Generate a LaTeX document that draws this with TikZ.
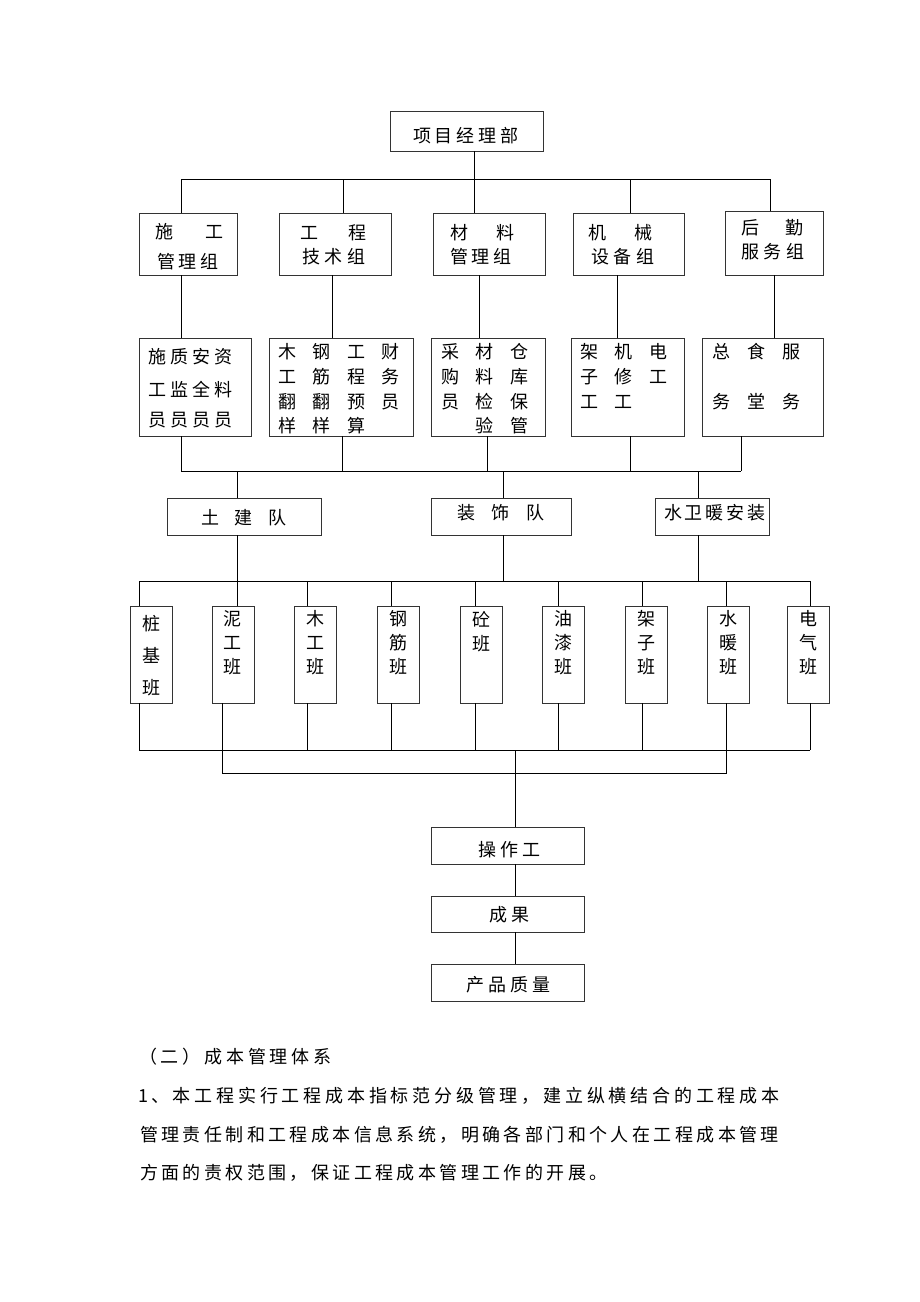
\documentclass[tikz,border=0pt]{standalone}
\usepackage{fontspec}
\newfontfamily\cjk{Noto Sans CJK SC}
\newcommand\spr[2]{\def\sprw{#1}\sprloop#2\relax}
\def\sprloop#1{\ifx#1\relax\else\makebox[\sprw][l]{#1}\expandafter\sprloop\fi}
\begin{document}
\begin{tikzpicture}[x=1pt,y=-1pt,
  bx/.style={draw=black!80, line width=0.9pt, inner sep=0pt, rectangle},
  ln/.style={line width=0.9pt, black},
  txt/.style={inner sep=0pt, anchor=west, font=\cjk\fontsize{18}{22}\selectfont},
  vt/.style={inner sep=0pt, align=center, font=\cjk\fontsize{18}{24}\selectfont}]
\useasboundingbox (0,0) rectangle (920,1302);
\fill[white] (0,0) rectangle (920,1302);

% ---------- boxes ----------
\node[bx, minimum width=153pt, minimum height=40pt] (top) at (466.5,131) {};
\node[bx, minimum width=98pt,  minimum height=62pt] (g1) at (188,244) {};
\node[bx, minimum width=112pt, minimum height=62pt] (g2) at (335,244) {};
\node[bx, minimum width=112pt, minimum height=62pt] (g3) at (489,244) {};
\node[bx, minimum width=111pt, minimum height=62pt] (g4) at (628.5,244) {};
\node[bx, minimum width=98pt,  minimum height=64pt] (g5) at (774,243) {};

\node[bx, minimum width=112pt, minimum height=98pt] (r1) at (195,387) {};
\node[bx, minimum width=144pt, minimum height=98pt] (r2) at (341,387) {};
\node[bx, minimum width=114pt, minimum height=98pt] (r3) at (488,387) {};
\node[bx, minimum width=113pt, minimum height=98pt] (r4) at (627.5,387) {};
\node[bx, minimum width=121pt, minimum height=98pt] (r5) at (762.5,387) {};

\node[bx, minimum width=154pt, minimum height=37pt] (s1) at (244,516.5) {};
\node[bx, minimum width=140pt, minimum height=37pt] (s2) at (501,516.5) {};
\node[bx, minimum width=114pt, minimum height=37pt] (s3) at (712,516.5) {};

\foreach \n/\cx in {t1/151.5,t2/233,t3/315,t4/398,t5/481,t6/563,t7/646,t8/728,t9/808}
  \node[bx, minimum width=42pt, minimum height=97pt] (\n) at (\cx,654.5) {};

\node[bx, minimum width=153pt, minimum height=37pt] (b1) at (507.5,845.5) {};
\node[bx, minimum width=153pt, minimum height=36pt] (b2) at (507.5,914) {};
\node[bx, minimum width=153pt, minimum height=37pt] (b3) at (507.5,982.5) {};

% ---------- texts ----------
\node[txt] (ttop) at (413,136) {\spr{21.7pt}{项目经理部}};

\node[txt] (g1a) at (155,232) {\spr{50pt}{施工}};
\node[txt] (g1b) at (157,262) {\spr{21.5pt}{管理组}};
\node[txt] (g2a) at (300,233) {\spr{48pt}{工程}};
\node[txt] (g2b) at (302,257) {\spr{22.5pt}{技术组}};
\node[txt] (g3a) at (450,233) {\spr{46pt}{材料}};
\node[txt] (g3b) at (450,257) {\spr{21.5pt}{管理组}};
\node[txt] (g4a) at (588,233) {\spr{46pt}{机械}};
\node[txt] (g4b) at (591,257) {\spr{22.5pt}{设备组}};
\node[txt] (g5a) at (741,228) {\spr{44pt}{后勤}};
\node[txt] (g5b) at (741,252) {\spr{22.5pt}{服务组}};

\node[txt] (r1a) at (148,357) {\spr{22pt}{施质安资}};
\node[txt] (r1b) at (148,390) {\spr{22pt}{工监全料}};
\node[txt] (r1c) at (148,420) {\spr{22pt}{员员员员}};

\node[txt] (r2a) at (278,352) {\spr{34.6pt}{木钢工财}};
\node[txt] (r2b) at (278,377) {\spr{34.6pt}{工筋程务}};
\node[txt] (r2c) at (278,402) {\spr{34.6pt}{翻翻预员}};
\node[txt] (r2d) at (278,426) {\spr{34.6pt}{样样算}};

\node[txt] (r3a) at (441,352) {\spr{34.6pt}{采材仓}};
\node[txt] (r3b) at (441,377) {\spr{34.6pt}{购料库}};
\node[txt] (r3c) at (441,402) {\spr{34.6pt}{员检保}};
\node[txt] (r3d) at (441,426) {\spr{34.6pt}{　验管}};

\node[txt] (r4a) at (580,352) {\spr{34.6pt}{架机电}};
\node[txt] (r4b) at (580,377) {\spr{34.6pt}{子修工}};
\node[txt] (r4c) at (580,402) {\spr{34.6pt}{工工}};

\node[txt] (r5a) at (712,352) {\spr{35pt}{总食服}};
\node[txt] (r5c) at (712,402) {\spr{35pt}{务堂务}};

\node[txt] (s1t) at (201,518) {\spr{33.5pt}{土建队}};
\node[txt] (s2t) at (457,513) {\spr{34.5pt}{装饰队}};
\node[txt] (s3t) at (664,513) {\spr{20.8pt}{水卫暖安装}};

\node[vt, font=\cjk\fontsize{18}{32}\selectfont] (t1t) at (151.5,656) {桩\\基\\班};
\node[vt] (t2t) at (232,643) {泥\\工\\班};
\node[vt] (t3t) at (315,643) {木\\工\\班};
\node[vt] (t4t) at (398,643) {钢\\筋\\班};
\node[vt] (t5t) at (481,631.5) {砼\\班};
\node[vt] (t6t) at (563,643) {油\\漆\\班};
\node[vt] (t7t) at (646,643) {架\\子\\班};
\node[vt] (t8t) at (728,643) {水\\暖\\班};
\node[vt] (t9t) at (808,643) {电\\气\\班};

\node[txt] (b1t) at (478,850) {\spr{22pt}{操作工}};
\node[txt] (b2t) at (489,915) {\spr{22pt}{成果}};
\node[txt] (b3t) at (466,985) {\spr{22pt}{产品质量}};

\node[txt] (p1) at (139,1057) {\spr{21.8pt}{（二）成本管理体系}};
\node[txt] (p2) at (138,1096) {1\hspace{3pt}\spr{21.8pt}{、本工程实行工程成本指标范分级管理，建立纵横结合的工程成本}};
\node[txt] (p3) at (140,1135) {\spr{21.4pt}{管理责任制和工程成本信息系统，明确各部门和个人在工程成本管理}};
\node[txt] (p4) at (140,1173) {\spr{21.4pt}{方面的责权范围，保证工程成本管理工作的开展。}};

% ---------- connectors ----------
% bus 1
\foreach \i/\x in {1/181,2/343,3/474,4/630,5/770} \coordinate (k\i) at (\x,179);
\draw[ln] (k1) -- (k5);
\draw[ln] (top.south -| k3) -- (k3 |- g3.north);
\foreach \i in {1,2,4,5} \draw[ln] (k\i) -- (k\i |- g\i.north);
% group -> row 2
\foreach \i/\x in {1/181,2/332,3/479,4/617,5/774} {
  \coordinate (m\i) at (\x,300);
  \draw[ln] (g\i.south -| m\i) -- (m\i |- r\i.north);
}
% row 2 -> bus 2
\foreach \i/\x in {1/181,2/342,3/487,4/630,5/741} {
  \coordinate (n\i) at (\x,471);
  \draw[ln] (r\i.south -| n\i) -- (n\i);
}
\draw[ln] (n1) -- (n5);
% bus 2 -> teams row 3 -> bus 3
\foreach \i/\x in {1/237,2/503,3/698} {
  \coordinate (pp\i) at (\x,471);
  \coordinate (q\i) at (\x,581);
  \draw[ln] (pp\i) -- (pp\i |- s\i.north);
  \draw[ln] (s\i.south -| q\i) -- (q\i);
}
% bus 3 -> crews
\foreach \i/\x in {1/139,2/237,3/307,4/391,5/475,6/558,7/642,8/726,9/810} {
  \coordinate (u\i) at (\x,581);
  \draw[ln] (u\i) -- (u\i |- t\i.north);
}
\draw[ln] (u1) -- (u9);
% crews -> bus 4
\foreach \i/\x in {1/139,2/222,3/307,4/391,5/475,6/558,7/642,8/726,9/810} {
  \coordinate (v\i) at (\x,750);
  \draw[ln] (t\i.south -| v\i) -- (v\i);
}
\draw[ln] (v1) -- (v9);
\coordinate (w1) at (222,773);
\coordinate (w2) at (726,773);
\draw[ln] (v2) -- (w1) -- (w2) -- (v8);
% down to results
\coordinate (z) at (515,750);
\draw[ln] (z) -- (z |- b1.north);
\draw[ln] (b1.south -| z) -- (b2.north -| z);
\draw[ln] (b2.south -| z) -- (b3.north -| z);
\end{tikzpicture}
\end{document}
